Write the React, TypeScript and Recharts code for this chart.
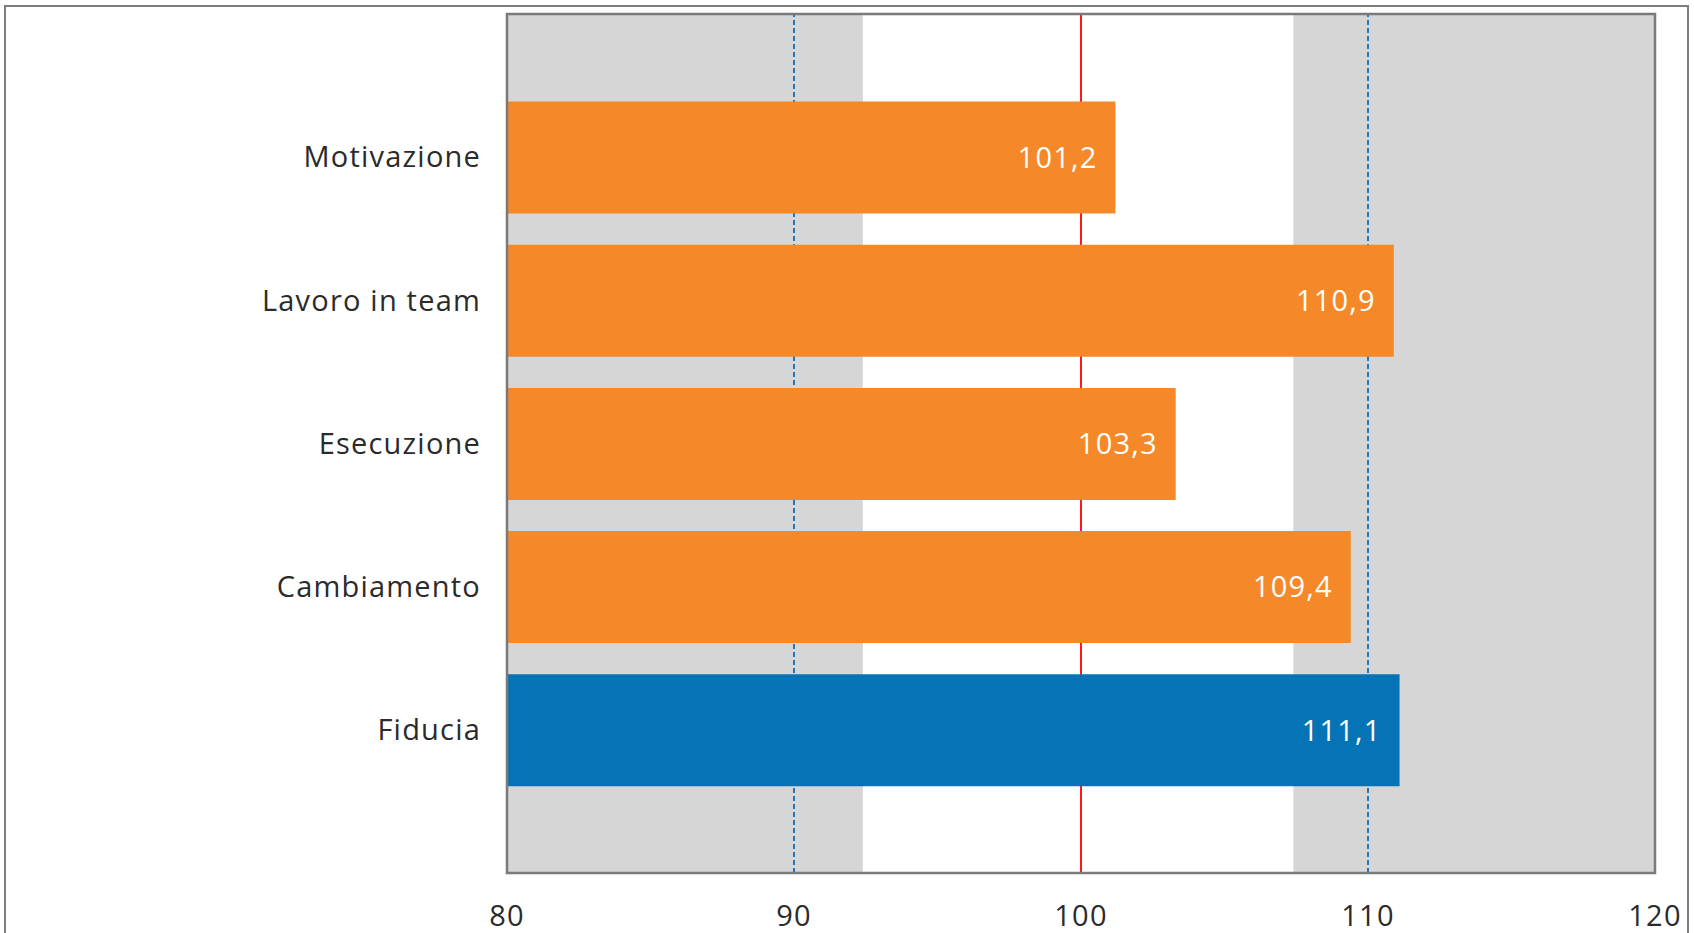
import { BarChart, Bar, XAxis, YAxis, Cell, LabelList, ReferenceArea, ReferenceLine } from 'recharts';

const categories = ['Motivazione', 'Lavoro in team', 'Esecuzione', 'Cambiamento', 'Fiducia'];
const values = [101.2, 110.9, 103.3, 109.4, 111.1];
const barColors = ['#F5892A', '#F5892A', '#F5892A', '#F5892A', '#0474B7'];
const xTicks = [80, 90, 100, 110, 120];
const grayBands = [
  [80, 92.4],
  [107.4, 120],
];
const dashedLines = [90, 110];
const targetLine = 100;

const data = categories.map((name, i) => ({ name, pos: i + 1, value: values[i] }));

const font = { fontFamily: '"Open Sans", sans-serif', fontSize: 29, letterSpacing: 1.2 };

export default function App() {
  return (
    <div
      style={{
        position: 'absolute',
        left: 0,
        top: 0,
        width: 1694,
        height: 933,
        overflow: 'hidden',
        background: '#fff',
      }}
    >
      <div
        style={{
          position: 'absolute',
          left: 4,
          top: 5,
          width: 1681,
          height: 1000,
          border: '2px solid #7d7d7d',
        }}
      />
      <BarChart
        width={1694}
        height={933}
        data={data}
        layout="vertical"
        margin={{ top: 14, right: 39, bottom: 0, left: 0 }}
        style={{ position: 'absolute', left: 0, top: 0 }}
      >
        <XAxis
          type="number"
          domain={[80, 120]}
          ticks={xTicks}
          allowDataOverflow
          axisLine={false}
          tickLine={false}
          tickSize={0}
          tickMargin={32}
          height={60}
          tick={{ ...font, fill: '#2b2b2b' }}
        />
        <YAxis
          type="number"
          dataKey="pos"
          domain={[0, 6]}
          ticks={[1, 2, 3, 4, 5]}
          tickFormatter={(v: number) => categories[v - 1] ?? ''}
          axisLine={false}
          tickLine={false}
          tickSize={0}
          tickMargin={26}
          width={507}
          tick={{ ...font, fill: '#2b2b2b' }}
        />
        {grayBands.map(([a, b]) => (
          <ReferenceArea key={a} x1={a} x2={b} fill="#D6D6D6" fillOpacity={1} stroke="none" zIndex={-50} />
        ))}
        {dashedLines.map((v) => (
          <ReferenceLine key={v} x={v} stroke="#1E78BE" strokeWidth={2} strokeDasharray="5 3" zIndex={-40} />
        ))}
        <ReferenceLine x={targetLine} stroke="#FF1A1A" strokeWidth={2} zIndex={-40} />
        <Bar dataKey="value" barSize={112} isAnimationActive={false}>
          {data.map((d, i) => (
            <Cell key={d.name} fill={barColors[i]} />
          ))}
          <LabelList
            dataKey="value"
            position="insideRight"
            offset={18}
            formatter={(v: number) => v.toFixed(1).replace('.', ',')}
            style={{ ...font, fill: '#FFFFFF' }}
          />
        </Bar>
        <ReferenceArea x1={80} x2={120} fill="none" stroke="#7a7a7a" strokeWidth={2.5} zIndex={1500} />
      </BarChart>
    </div>
  );
}
